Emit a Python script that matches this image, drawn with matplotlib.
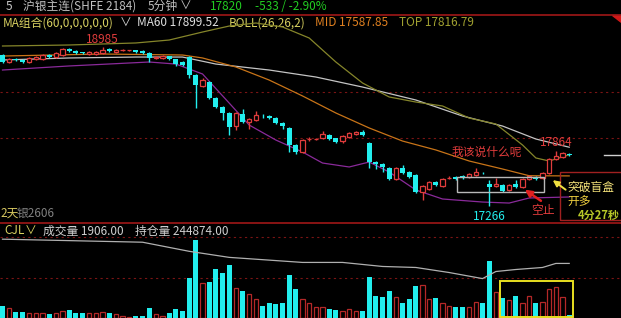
import matplotlib
matplotlib.use("Agg")
import matplotlib.pyplot as plt
from matplotlib.patches import Rectangle

plt.rcParams['font.family'] = ['Noto Sans CJK SC', 'DejaVu Sans']

W, H = 621, 318

# 5-minute candles
opens = [18902, 18826, 18859, 18848, 18826, 18859, 18859, 18902, 18880, 18902,
         18967, 18946, 18928, 18913, 18913, 18924, 18967, 18935, 18952, 18952,
         18957, 18946, 18924, 18870, 18870, 18891, 18859, 18826, 18880, 18685,
         18565, 18609, 18435, 18337, 18272, 18130, 18261, 18174, 18196, 18239,
         18239, 18217, 18163, 18109, 17924, 17848, 17984, 17984, 18000, 18033,
         18000, 17967, 18011, 18043, 18065, 17946, 17739, 17717, 17674, 17554,
         17674, 17630, 17598, 17413, 17446, 17522, 17478, 17560, 17576, 17587,
         17576, 17598, 17623, 17500, 17478, 17489, 17435, 17500, 17467, 17554,
         17576, 17565, 17620, 17772, 17793, 17830]
highs = [18913, 18870, 18870, 18859, 18880, 18891, 18913, 18913, 18935, 18975,
         18975, 18957, 18935, 18946, 18946, 18985, 18975, 18967, 18967, 18962,
         18962, 18952, 18930, 18891, 18902, 18896, 18864, 18837, 18891, 18696,
         18652, 18620, 18446, 18348, 18283, 18283, 18315, 18217, 18293, 18261,
         18250, 18228, 18174, 18120, 17935, 17989, 18011, 18000, 18076, 18043,
         18005, 18033, 18065, 18076, 18087, 17957, 17750, 17728, 17685, 17685,
         17707, 17641, 17609, 17489, 17533, 17533, 17565, 17587, 17587, 17598,
         17620, 17674, 17630, 17543, 17565, 17500, 17500, 17543, 17565, 17598,
         17587, 17630, 17783, 17864, 17848, 17842]
lows = [18815, 18815, 18837, 18815, 18815, 18848, 18848, 18870, 18870, 18891,
        18935, 18913, 18913, 18902, 18902, 18913, 18935, 18924, 18946, 18946,
        18924, 18913, 18826, 18859, 18859, 18848, 18783, 18783, 18652, 18326,
        18554, 18424, 18326, 18196, 18033, 18087, 18163, 18098, 18185, 18217,
        18207, 18152, 18098, 17848, 17826, 17837, 17967, 17978, 17989, 17978,
        17946, 17946, 18000, 18033, 18022, 17674, 17663, 17630, 17543, 17543,
        17609, 17565, 17402, 17326, 17435, 17478, 17467, 17554, 17543, 17554,
        17565, 17587, 17609, 17266, 17467, 17413, 17424, 17457, 17457, 17543,
        17543, 17554, 17609, 17761, 17783, 17804]
closes = [18826, 18859, 18848, 18826, 18870, 18880, 18902, 18880, 18924, 18967,
          18946, 18924, 18922, 18935, 18935, 18957, 18946, 18957, 18957, 18957,
          18935, 18924, 18870, 18880, 18891, 18859, 18804, 18794, 18685, 18576,
          18630, 18435, 18337, 18272, 18120, 18272, 18174, 18207, 18250, 18234,
          18217, 18163, 18130, 17924, 17848, 17978, 17989, 17989, 18043, 17989,
          17957, 18022, 18054, 18065, 18033, 17739, 17717, 17685, 17554, 17674,
          17620, 17576, 17413, 17478, 17522, 17489, 17554, 17565, 17554, 17565,
          17609, 17630, 17617, 17467, 17500, 17424, 17489, 17467, 17554, 17587,
          17554, 17620, 17772, 17804, 17837, 17820]
volumes = [600, 500, 300, 300, 250, 250, 250, 200, 250, 350,
           400, 250, 250, 250, 250, 300, 250, 200, 100, 50,
           100, 100, 500, 200, 100, 250, 450, 350, 2000, 3850,
           1750, 1800, 2400, 2250, 2600, 1500, 1350, 1200, 950, 600,
           750, 700, 750, 2150, 1450, 950, 750, 550, 550, 450,
           400, 350, 450, 350, 350, 2050, 1100, 1050, 1350, 1050,
           750, 950, 1600, 1650, 950, 1000, 750, 600, 550, 550,
           550, 800, 750, 2800, 1300, 1000, 900, 1100, 750, 1100,
           750, 800, 1450, 1550, 1050, 150]

# indicator lines (candle index, value)
ma60_idx = [0, 10, 20, 27, 32, 40, 47, 54, 62, 69, 75, 80, 85]
ma60_val = [18848, 18870, 18880, 18880, 18804, 18739, 18663, 18554, 18413,
            18239, 18130, 17989, 17900]
top_idx = [0, 10, 20, 25, 30, 34, 38, 42, 46, 50, 54, 58, 62, 66, 70, 74, 78, 80, 82, 85]
top_val = [19000, 19011, 19033, 19065, 19152, 19217, 19250, 19207, 19087, 18826,
           18598, 18446, 18391, 18348, 18217, 18152, 17924, 17783, 17750, 17817]
mid_idx = [0, 15, 27, 30, 35, 40, 45, 50, 55, 60, 65, 70, 75, 79, 85]
mid_val = [18891, 18913, 18902, 18870, 18772, 18630, 18457, 18272, 18109,
           17967, 17870, 17750, 17663, 17590, 17588]
bot_idx = [0, 10, 22, 26, 30, 34, 37, 41, 45, 48, 52, 55, 58, 62, 66, 72, 76, 79, 85]
bot_val = [18739, 18783, 18826, 18804, 18696, 18380, 18141, 17978, 17848, 17728,
           17685, 17739, 17630, 17435, 17337, 17304, 17293, 17348, 17359]
vma_idx = [0, 21, 28, 34, 45, 51, 57, 62, 67, 72, 74, 77, 81, 83, 85]
vma_val = [3900, 3750, 3300, 3000, 2750, 2750, 2550, 2500, 2250, 1950, 2300,
           2400, 2500, 2700, 2700]

UP = '#e03c3c'
DOWN = '#22eeee'
BG = '#000000'

fig = plt.figure(figsize=(W / 100, H / 100), dpi=100, facecolor=BG)

bg = fig.add_axes([0, 0, 1, 1])
bg.set_xlim(0, W)
bg.set_ylim(H, 0)
bg.axis('off')

ax = fig.add_axes([0, 1 - 222 / H, 1, 207 / H])
ax.set_facecolor('none')
ax.set_xlim(-0.375, 92.77)
ax.set_ylim(17087, 19337)
ax.axis('off')

axv = fig.add_axes([0, 0, 1, 96 / H])
axv.set_facecolor('none')
axv.set_xlim(-0.375, 92.77)
axv.set_ylim(0, 4750)
axv.axis('off')

# grid
for g in (18500, 18000):
    ax.axhline(g, color='#7a1414', lw=0.8, ls=(0, (2, 3)), zorder=1)
for g in (2000, 4000):
    axv.axhline(g, color='#7a1414', lw=0.8, ls=(0, (2, 3)), zorder=1)

# separators
bg.plot([0, W], [15, 15], color='#a01818', lw=1.2)
bg.plot([0, W], [222.5, 222.5], color='#a01818', lw=1.2)
bg.fill([612, 621, 621], [15, 15, 22], color='#d01818')

# bollinger / ma lines
ax.plot(ma60_idx, ma60_val, color='#c4c4c4', lw=0.9, zorder=2)
ax.plot(top_idx, top_val, color='#85852a', lw=0.9, zorder=2)
ax.plot(mid_idx, mid_val, color='#c87418', lw=0.9, zorder=2)
ax.plot(bot_idx, bot_val, color='#8a2a9a', lw=0.9, zorder=2)
ax.plot([90.2, 93], [17820, 17820], color='#d0d0d0', lw=1, zorder=2, clip_on=False)

# candles
for i in range(len(opens)):
    o, h, l, c = opens[i], highs[i], lows[i], closes[i]
    up = c > o
    col = UP if up else DOWN
    ax.vlines(i, l, h, color=col, lw=1, zorder=3)
    lo = min(o, c)
    ht = max(abs(c - o), 8)
    if up:
        ax.add_patch(Rectangle((i - 0.33, lo), 0.66, ht, facecolor=BG,
                               edgecolor=col, lw=0.9, zorder=4))
    else:
        ax.add_patch(Rectangle((i - 0.375, lo), 0.75, ht, facecolor=col,
                               edgecolor='none', zorder=4))

# volume
for i, v in enumerate(volumes):
    if closes[i] > opens[i]:
        axv.add_patch(Rectangle((i - 0.33, 0), 0.66, v, facecolor=BG,
                                edgecolor='#b42828', lw=0.9, zorder=3))
    else:
        axv.add_patch(Rectangle((i - 0.375, 0), 0.75, v, facecolor=DOWN,
                                edgecolor='none', zorder=3))
axv.plot(vma_idx, vma_val, color='#b0b0b0', lw=0.9, zorder=4)
axv.add_patch(Rectangle((74.6, 30), 10.9, 1800, facecolor='none',
                        edgecolor='#e8e020', lw=1.4, zorder=5))

# price labels
ax.annotate('18985', (15, 18985), xytext=(0, 1), textcoords='offset points',
            ha='center', va='bottom', color=UP, fontsize=8.5, zorder=6)
ax.annotate('17266', (73, 17266), xytext=(0, -3), textcoords='offset points',
            ha='center', va='top', color=DOWN, fontsize=8.5, zorder=6)
ax.annotate('17864', (83, 17864), xytext=(0, 1), textcoords='offset points',
            ha='center', va='bottom', color=UP, fontsize=8.5, zorder=6)

# hand-drawn notes
ax.text(67.3, 17848, '我该说什么呢', color=UP, fontsize=8.5, ha='left',
        va='center', zorder=6)
ax.add_patch(Rectangle((68.2, 17413), 13.0, 163, facecolor='none',
                       edgecolor='#b8b8b8', lw=1, zorder=5))
ax.annotate('', xy=(78, 17456), xytext=(81.1, 17300),
            arrowprops=dict(arrowstyle='-|>', color='#e02020', lw=1.8,
                            mutation_scale=10), zorder=6)
ax.text(81.1, 17215, '空止', color=UP, fontsize=8.5, ha='center',
        va='center', zorder=6)
ax.annotate('', xy=(82.2, 17560), xytext=(84.8, 17420),
            arrowprops=dict(arrowstyle='-|>', color='#f0e040', lw=1.4,
                            mutation_scale=9), zorder=6)
ax.add_patch(Rectangle((83.6, 17105), 10, 525, facecolor='none',
                       edgecolor='#a02020', lw=1, zorder=5, clip_on=False))
ax.text(84.7, 17465, '突破盲盒', color='#f4e27a', fontsize=8.5, ha='left',
        va='center', zorder=6, clip_on=False)
ax.text(84.7, 17300, '开多', color='#f0d040', fontsize=8.5, ha='left',
        va='center', zorder=6)
ax.text(86.3, 17160, '4分27秒', color='#b8c828', fontsize=8, ha='left',
        va='center', zorder=6, clip_on=False, fontweight='bold')

# header line 1
fs = 8.5
bg.text(6, 6, '5', color='#c8c8c8', fontsize=fs, va='center')
bg.text(23, 6, '沪银主连(SHFE 2184)', color='#c0c0c0', fontsize=fs, va='center')
bg.text(148, 6, '5分钟', color='#c0c0c0', fontsize=fs, va='center')
bg.text(180, 6, '∨', color='#c0c0c0', fontsize=fs, va='center')
bg.text(210, 6, '17820', color='#22cc22', fontsize=fs, va='center')
bg.text(255, 6, '-533 / -2.90%', color='#22cc22', fontsize=fs, va='center')

# header line 2
bg.text(3, 23, 'MA组合(60,0,0,0,0,0)', color='#d8d060', fontsize=fs, va='center')
bg.text(120, 23, '∨', color='#d0d0d0', fontsize=fs, va='center')
bg.text(137, 23, 'MA60 17899.52', color='#e0e0e0', fontsize=fs, va='center')
bg.text(229, 23, 'BOLL(26,26,2)', color='#d8d060', fontsize=fs, va='center')
bg.text(315, 23, 'MID 17587.85', color='#e08020', fontsize=fs, va='center')
bg.text(399, 23, 'TOP 17816.79', color='#a0a030', fontsize=fs, va='center')

# contract tag and volume header
bg.text(0, 213, '2天', color='#d8c860', fontsize=fs, va='center')
bg.text(17, 213, '银2606', color='#808080', fontsize=fs, va='center')
bg.text(4, 231, 'CJL', color='#d8d060', fontsize=fs, va='center')
bg.text(25, 231, '∨', color='#d8d060', fontsize=fs, va='center')
bg.text(43, 231, '成交量 1906.00', color='#d0d0d0', fontsize=fs, va='center')
bg.text(135, 231, '持仓量 244874.00', color='#d0d0d0', fontsize=fs, va='center')

fig.savefig('out.png', dpi=100, facecolor=BG)
